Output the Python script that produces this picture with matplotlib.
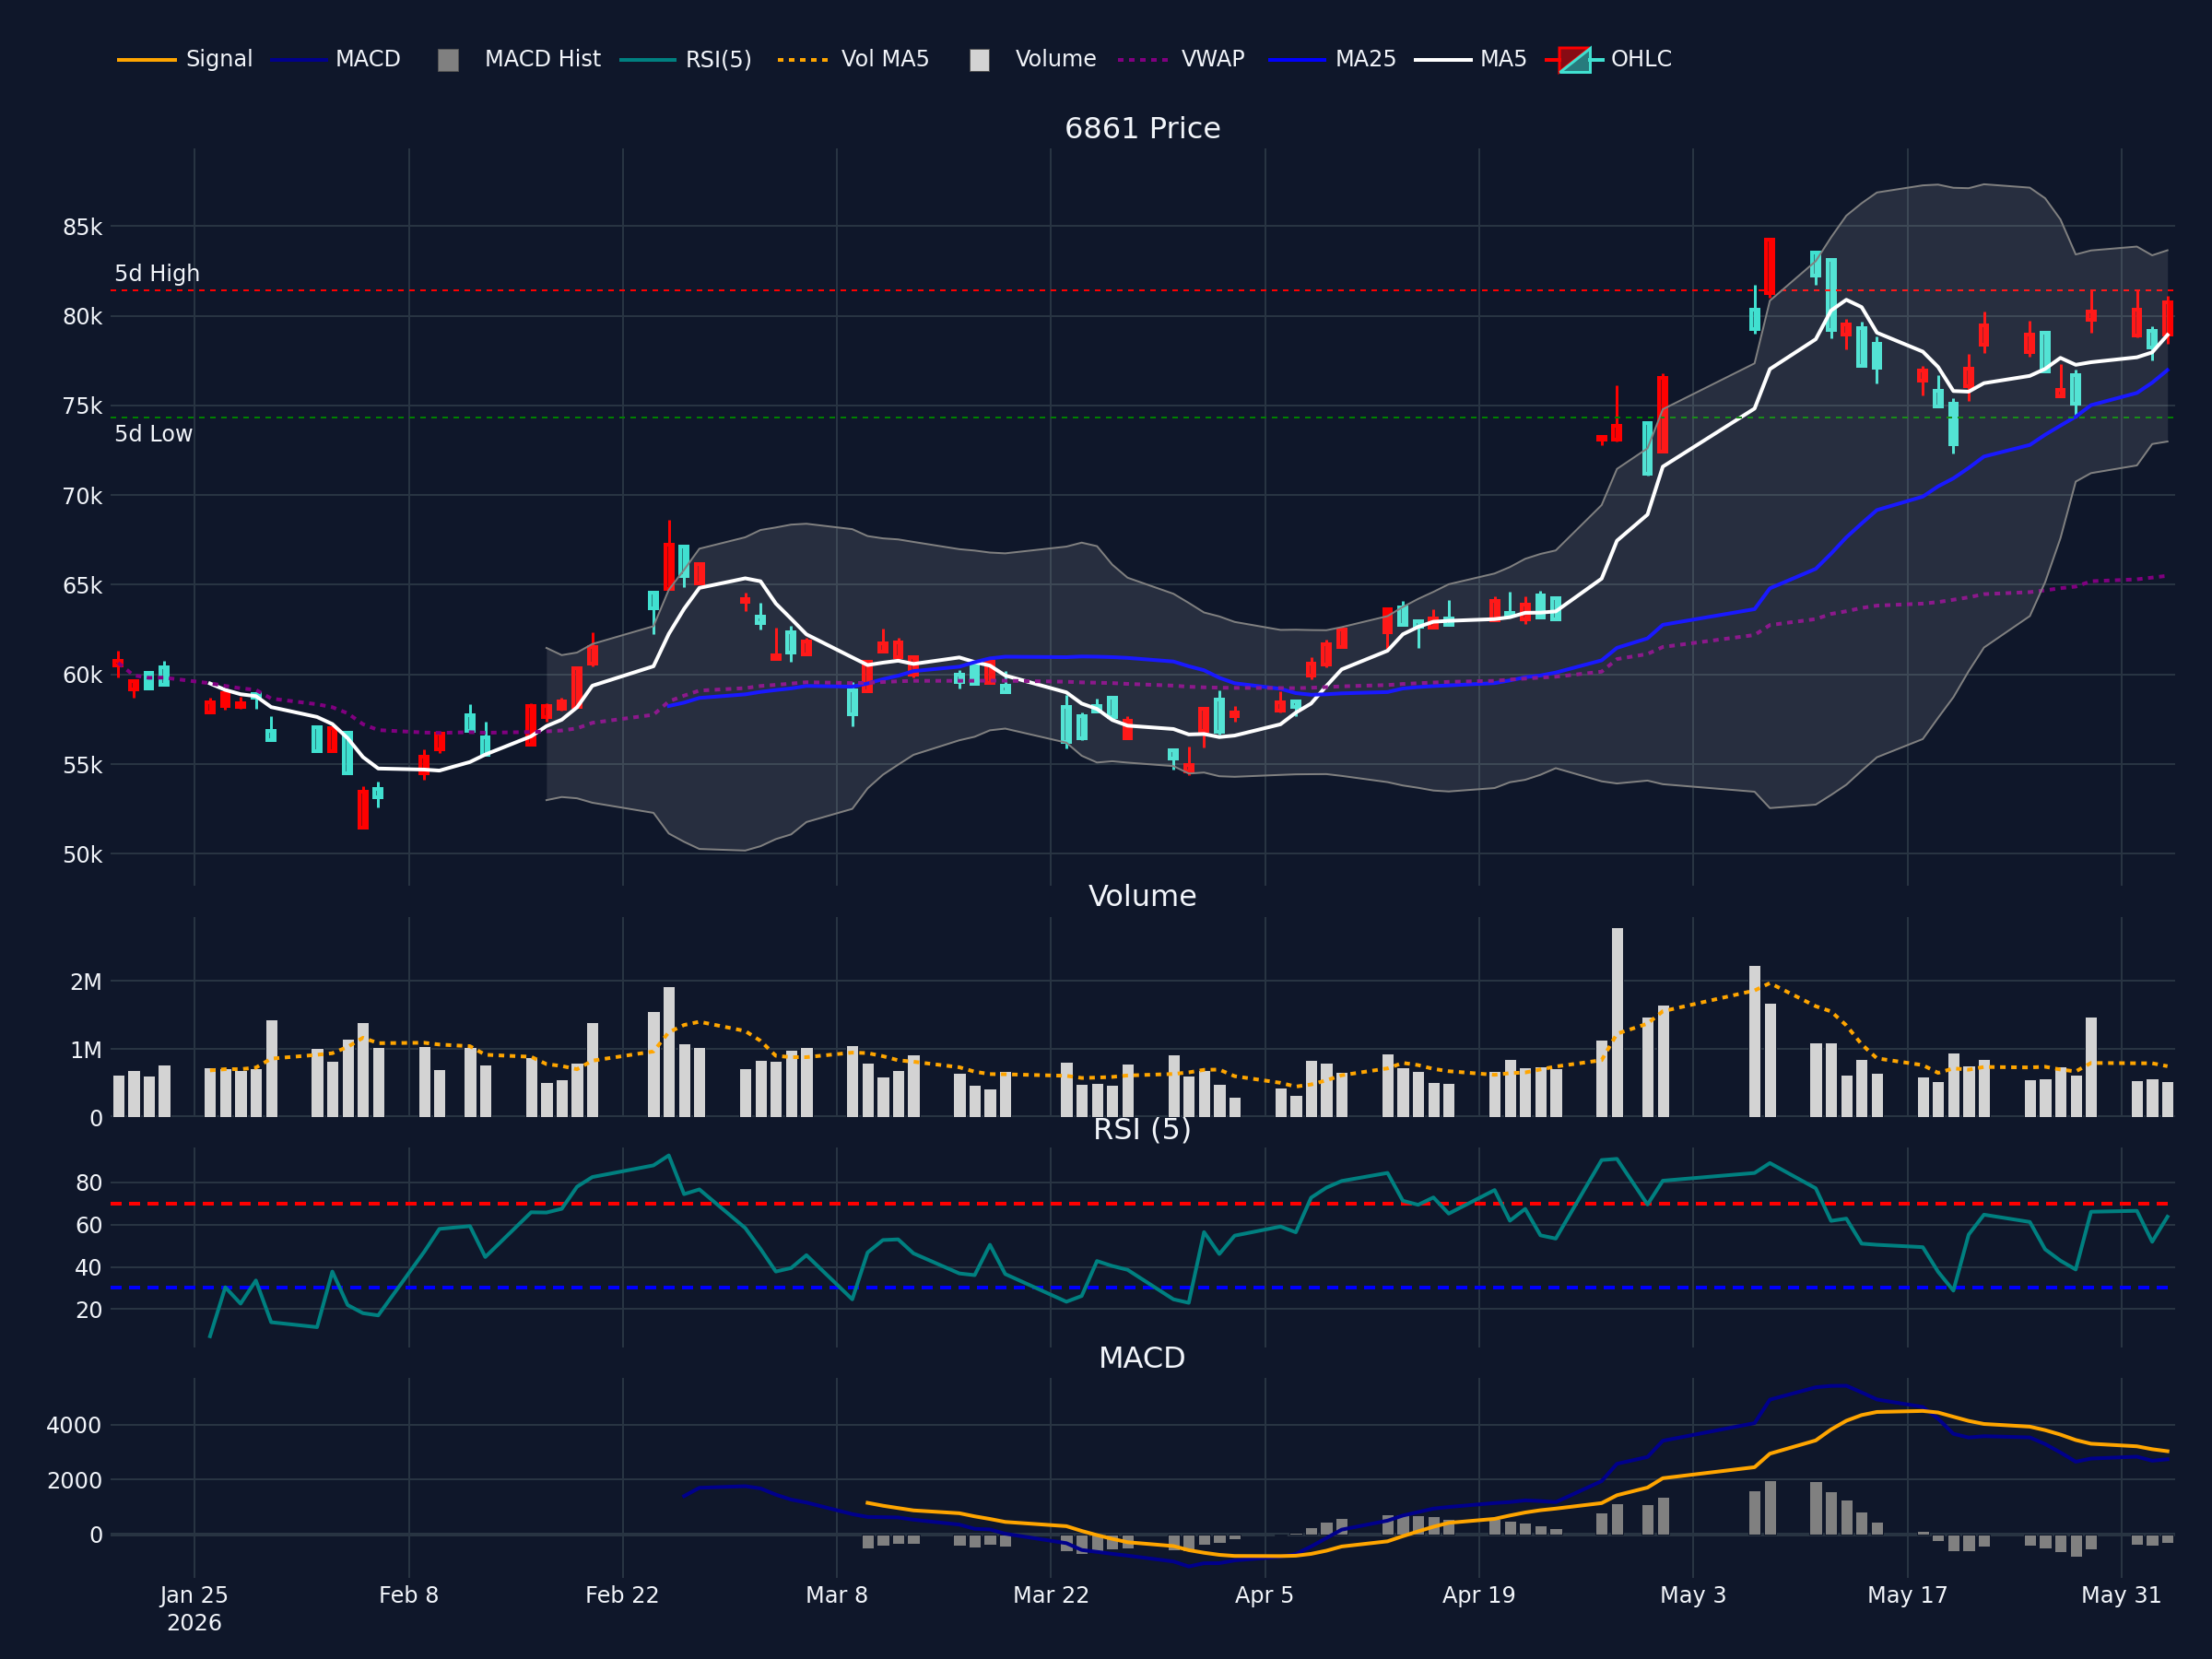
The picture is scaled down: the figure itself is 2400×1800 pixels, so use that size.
import numpy as np
import pandas as pd
import matplotlib
matplotlib.use("Agg")
import matplotlib.pyplot as plt
import matplotlib.dates as mdates
from matplotlib.patches import Rectangle, Polygon
from matplotlib.lines import Line2D

plt.rcParams['font.family'] = ['DejaVu Sans']
plt.rcParams['lines.scale_dashes'] = False

# ---------------- data ----------------
ticker_title = "6861 Price"
days_jan = [20, 21, 22, 23, 26, 27, 28, 29, 30]
days_feb = [2, 3, 4, 5, 6, 9, 10, 12, 13, 16, 17, 18, 19, 20, 24, 25, 26, 27]
days_mar = [2, 3, 4, 5, 6, 9, 10, 11, 12, 13, 16, 17, 18, 19, 23, 24, 25, 26, 27, 30, 31]
days_apr = [1, 2, 3, 6, 7, 8, 9, 10, 13, 14, 15, 16, 17, 20, 21, 22, 23, 24, 27, 28, 30]
days_may = [1, 7, 8, 11, 12, 13, 14, 15, 18, 19, 20, 21, 22, 25, 26, 27, 28, 29]
days_jun = [1, 2, 3]

# prices in thousands of yen
open_k = [60.48, 59.14, 60.09, 60.40, 57.89, 58.25, 58.17, 58.92, 56.87,
          57.04, 55.70, 56.76, 51.45, 53.61, 54.48, 55.81, 57.72, 56.49, 56.06, 57.60, 58.07, 58.17, 60.60, 64.54, 64.75, 67.13, 65.09,
          64.06, 63.22, 60.88, 62.37, 61.12, 59.09, 59.06, 61.29, 60.94, 60.00, 59.97, 60.52, 59.54, 59.37, 58.17, 57.66, 58.25, 58.68, 56.46, 55.77, 54.61,
          56.83, 58.58, 57.66, 58.00, 58.50, 59.95, 60.57, 61.51, 62.37, 63.74, 62.97, 62.62, 63.14, 63.00, 63.43, 63.08, 64.42, 64.23, 73.11, 73.11, 74.00,
          72.42, 80.33, 81.24, 83.54, 83.11, 78.93, 79.31, 78.42, 76.36, 75.79, 75.09, 76.07, 78.38, 77.99, 79.05, 75.50, 76.70, 79.79,
          78.90, 79.13, 78.96]
high_k = [61.34, 59.61, 60.09, 60.74, 58.68, 58.97, 58.77, 58.95, 57.65,
          57.04, 57.12, 56.76, 53.78, 54.01, 55.84, 56.71, 58.32, 57.35, 58.37, 58.41, 58.72, 60.41, 62.36, 64.68, 68.62, 67.13, 66.25,
          64.54, 63.99, 62.60, 62.71, 62.06, 59.57, 60.72, 62.57, 62.04, 60.94, 60.22, 60.52, 60.72, 60.17, 58.85, 57.86, 58.63, 58.68, 57.69, 55.77, 55.98,
          58.07, 59.09, 58.25, 59.06, 58.50, 60.94, 61.94, 62.49, 63.75, 64.08, 62.97, 63.65, 64.15, 64.34, 64.59, 64.34, 64.68, 64.23, 73.24, 76.10, 74.00,
          76.79, 81.72, 84.24, 83.60, 83.11, 79.82, 79.65, 78.84, 77.18, 76.67, 75.38, 77.85, 80.21, 79.73, 79.05, 77.30, 76.99, 81.41,
          81.41, 79.41, 81.10]
low_k = [59.83, 58.72, 59.23, 59.40, 57.89, 58.03, 58.08, 58.07, 56.27,
         55.70, 55.70, 54.47, 51.45, 52.60, 54.13, 55.63, 56.75, 55.51, 56.06, 57.35, 58.00, 58.17, 60.43, 62.23, 64.75, 64.88, 65.09,
         63.55, 62.49, 60.82, 60.72, 61.08, 57.09, 59.06, 61.29, 60.81, 59.83, 59.23, 59.45, 59.54, 59.01, 55.89, 56.32, 57.95, 57.64, 56.46, 54.69, 54.38,
         55.94, 56.66, 57.38, 57.86, 57.69, 59.74, 60.38, 61.51, 61.37, 62.78, 61.46, 62.57, 62.74, 63.00, 63.31, 62.83, 63.17, 63.08, 72.76, 72.97, 71.08,
         72.42, 78.98, 81.02, 81.70, 78.76, 78.11, 77.22, 76.24, 75.55, 74.92, 72.30, 75.25, 77.90, 77.70, 76.87, 75.50, 74.30, 79.07,
         78.79, 77.53, 78.42]
close_k = [60.77, 59.61, 59.23, 59.40, 58.46, 58.97, 58.41, 58.70, 56.35,
           55.70, 57.00, 54.47, 53.44, 53.15, 55.41, 56.71, 56.87, 55.51, 58.25, 58.24, 58.49, 60.33, 61.53, 63.68, 67.25, 65.48, 66.17,
           64.20, 62.85, 61.05, 61.23, 61.83, 57.77, 60.72, 61.72, 61.77, 60.94, 59.57, 59.45, 60.72, 59.01, 56.23, 56.46, 57.95, 57.64, 57.43, 55.29, 54.95,
           58.07, 56.78, 57.86, 58.43, 58.20, 60.60, 61.68, 62.49, 63.63, 62.78, 62.66, 63.12, 62.74, 64.11, 63.31, 63.89, 63.17, 63.08, 73.24, 73.88, 71.19,
           76.53, 79.27, 84.24, 82.21, 79.19, 79.53, 77.22, 77.11, 76.93, 74.92, 72.81, 77.05, 79.48, 78.96, 76.87, 75.88, 75.11, 80.21,
           80.33, 78.24, 80.73]
# volume in millions of shares
volume_m = [0.624, 0.692, 0.611, 0.769, 0.733, 0.715, 0.692, 0.724, 1.430,
            1.014, 0.833, 1.154, 1.398, 1.032, 1.045, 0.701, 1.032, 0.769, 0.882, 0.511, 0.557, 0.796, 1.398, 1.561, 1.923, 1.090, 1.032,
            0.719, 0.837, 0.824, 0.991, 1.032, 1.054, 0.801, 0.597, 0.692, 0.923, 0.647, 0.475, 0.421, 0.679, 0.810, 0.489, 0.502, 0.471, 0.783, 0.923, 0.606,
            0.688, 0.489, 0.299, 0.434, 0.330, 0.842, 0.796, 0.670, 0.941, 0.733, 0.679, 0.516, 0.502, 0.674, 0.855, 0.729, 0.742, 0.715, 1.140, 2.796, 1.475,
            1.652, 2.240, 1.683, 1.095, 1.095, 0.624, 0.851, 0.652, 0.597, 0.525, 0.950, 0.760, 0.851, 0.561, 0.575, 0.747, 0.620, 1.475,
            0.538, 0.575, 0.529]

xtick_dates = ["2026-01-25", "2026-02-08", "2026-02-22", "2026-03-08", "2026-03-22",
               "2026-04-05", "2026-04-19", "2026-05-03", "2026-05-17", "2026-05-31"]
xtick_labels = ["Jan 25\n2026", "Feb 8", "Feb 22", "Mar 8", "Mar 22",
                "Apr 5", "Apr 19", "May 3", "May 17", "May 31"]
price_ticks = [50000, 55000, 60000, 65000, 70000, 75000, 80000, 85000]
vol_ticks = [0, 1e6, 2e6]
rsi_ticks = [20, 40, 60, 80]
macd_ticks = [0, 2000, 4000]
legend_labels = ["Signal", "MACD", "MACD Hist", "RSI(5)", "Vol MA5", "Volume", "VWAP", "MA25", "MA5", "OHLC"]

# ---------------- frame ----------------
dates = ([f"2026-01-{d:02d}" for d in days_jan] + [f"2026-02-{d:02d}" for d in days_feb] +
         [f"2026-03-{d:02d}" for d in days_mar] + [f"2026-04-{d:02d}" for d in days_apr] +
         [f"2026-05-{d:02d}" for d in days_may] + [f"2026-06-{d:02d}" for d in days_jun])
df = pd.DataFrame({
    "date": pd.to_datetime(dates),
    "open": np.array(open_k) * 1000, "high": np.array(high_k) * 1000,
    "low": np.array(low_k) * 1000, "close": np.array(close_k) * 1000,
    "volume": np.array(volume_m) * 1e6,
})
c = df["close"]
df["ma5"] = c.rolling(5).mean()
df["ma25"] = c.rolling(25).mean()
mid = c.rolling(20).mean()
sd = c.rolling(20).std()
df["bb_up"] = mid + 2 * sd
df["bb_lo"] = mid - 2 * sd
typ = (df["high"] + df["low"] + df["close"]) / 3
df["vwap"] = (typ * df["volume"]).cumsum() / df["volume"].cumsum()
df["vol_ma5"] = df["volume"].rolling(5).mean()
delta = c.diff()
gain = delta.where(delta > 0, 0).ewm(com=4, min_periods=5).mean()
loss = (-delta.where(delta < 0, 0)).ewm(com=4, min_periods=5).mean()
df["rsi"] = 100 - 100 / (1 + gain / loss)
ema12 = c.ewm(span=12, adjust=False, min_periods=12).mean()
ema26 = c.ewm(span=26, adjust=False, min_periods=26).mean()
df["macd"] = ema12 - ema26
df["signal"] = df["macd"].ewm(span=9, adjust=False, min_periods=9).mean()
df["hist"] = df["macd"] - df["signal"]
hi5 = df["high"].iloc[-5:].max()
lo5 = df["low"].iloc[-5:].min()

x = mdates.date2num(df["date"])

# ---------------- style ----------------
BG = "#0f172a"
GRID = "#283442"
TXT = "#f2f5fa"
INC = "#ff0000"
DEC = "#40e0d0"
W, H = 2400, 1800
PX = 72 / 200.0  # points per pixel

fig = plt.figure(figsize=(12, 9), dpi=200, facecolor=BG)


def rect(x0, y0, x1, y1):
    return [x0 / W, 1 - y1 / H, (x1 - x0) / W, (y1 - y0) / H]


ax_p = fig.add_axes(rect(120, 161, 2360, 961))
ax_v = fig.add_axes(rect(120, 995, 2360, 1212), sharex=ax_p)
ax_r = fig.add_axes(rect(120, 1245, 2360, 1462), sharex=ax_p)
ax_m = fig.add_axes(rect(120, 1495, 2360, 1712), sharex=ax_p)

tick_x = mdates.date2num(pd.to_datetime(xtick_dates))
for ax in (ax_p, ax_v, ax_r, ax_m):
    ax.set_facecolor(BG)
    for s in ax.spines.values():
        s.set_visible(False)
    ax.set_axisbelow(True)
    ax.grid(True, color=GRID, lw=2 * PX)
    ax.tick_params(length=0, colors=TXT, labelsize=12 * 2 * PX, pad=3)
    ax.set_xticks(tick_x)
ax_p.set_xlim(x[0] - 0.5, x[-1] + 0.5)
for ax in (ax_p, ax_v, ax_r):
    ax.tick_params(labelbottom=False)
ax_m.set_xticklabels(xtick_labels, linespacing=1.3)
ax_m.tick_params(axis="x", pad=3)

# ---------------- price panel ----------------
o, h, l, cl = df["open"].values, df["high"].values, df["low"].values, df["close"].values
up = cl >= o
line_cols = np.where(up, INC, DEC)
fill_cols = [(1, 0, 0, 0.5) if u else (64 / 255, 224 / 255, 208 / 255, 0.5) for u in up]
ax_p.vlines(x, l, h, colors=line_cols, lw=3 * PX, zorder=2)
ax_p.bar(x, np.abs(cl - o), bottom=np.minimum(o, cl), width=0.47, color=fill_cols,
         edgecolor=line_cols, linewidth=4 * PX, zorder=3)
ax_p.plot(x, df["ma5"], color="white", lw=4 * PX, zorder=4)
ax_p.plot(x, df["ma25"], color="blue", lw=4 * PX, zorder=4)
ax_p.plot(x, df["vwap"], color="purple", lw=4 * PX, dashes=(6 * PX, 6 * PX), zorder=4)
ax_p.fill_between(x, df["bb_lo"], df["bb_up"], color="white", alpha=0.1, lw=0, zorder=6)
ax_p.plot(x, df["bb_up"], color="gray", lw=2 * PX, zorder=6)
ax_p.plot(x, df["bb_lo"], color="gray", lw=2 * PX, zorder=6)
ax_p.axhline(hi5, color="red", lw=2 * PX, dashes=(6 * PX, 6 * PX), zorder=5)
ax_p.axhline(lo5, color="green", lw=2 * PX, dashes=(6 * PX, 6 * PX), zorder=5)
ax_p.annotate("5d High", xy=(0.002, hi5), xycoords=("axes fraction", "data"),
              xytext=(0, 2), textcoords="offset points", ha="left", va="bottom",
              color=TXT, fontsize=12 * 2 * PX, zorder=7)
ax_p.annotate("5d Low", xy=(0.002, lo5), xycoords=("axes fraction", "data"),
              xytext=(0, -2.5), textcoords="offset points", ha="left", va="top",
              color=TXT, fontsize=12 * 2 * PX, zorder=7)
ax_p.set_ylim(48217, 89327)
ax_p.set_yticks(price_ticks)
ax_p.set_yticklabels([f"{int(t/1000)}k" for t in price_ticks])

# ---------------- volume panel ----------------
ax_v.bar(x, df["volume"], width=0.8, color="lightgray", edgecolor=BG, linewidth=1 * PX, zorder=3)
ax_v.plot(x, df["vol_ma5"], color="orange", lw=4 * PX, dashes=(6 * PX, 6 * PX), zorder=4)
ax_v.axhline(0, color=GRID, lw=4 * PX, zorder=2)
ax_v.set_ylim(0, 2.94e6)
ax_v.set_yticks(vol_ticks)
ax_v.set_yticklabels(["0", "1M", "2M"])

# ---------------- RSI panel ----------------
ax_r.plot(x, df["rsi"], color="teal", lw=4 * PX, zorder=4)
ax_r.axhline(70, color="red", lw=4 * PX, dashes=(12 * PX, 8 * PX), zorder=3)
ax_r.axhline(30, color="blue", lw=4 * PX, dashes=(12 * PX, 8 * PX), zorder=3)
ax_r.set_ylim(1.8, 96.6)
ax_r.set_yticks(rsi_ticks)

# ---------------- MACD panel ----------------
ax_m.bar(x, df["hist"], width=0.8, color="gray", edgecolor=BG, linewidth=1 * PX, zorder=3)
ax_m.plot(x, df["macd"], color="darkblue", lw=4 * PX, zorder=4)
ax_m.plot(x, df["signal"], color="orange", lw=4 * PX, zorder=4)
ax_m.axhline(0, color=GRID, lw=4 * PX, zorder=2)
ax_m.set_ylim(-1575, 5695)
ax_m.set_yticks(macd_ticks)
ax_m.set_yticklabels([str(t) for t in macd_ticks])

# ---------------- subplot titles ----------------
for txt, yy in [(ticker_title, 141), ("Volume", 975), ("RSI (5)", 1227), ("MACD", 1476)]:
    fig.text(1240 / W, 1 - yy / H, txt, ha="center", va="center", color=TXT, fontsize=16 * 2 * PX)

# ---------------- legend (drawn in pixel space) ----------------
lg = fig.add_axes([0, 0, 1, 1], zorder=10)
lg.set_xlim(0, W)
lg.set_ylim(H, 0)
lg.axis("off")
ly = 65
items = [
    ("line", "orange", 129, 190, 201),
    ("line", "darkblue", 295, 354, 364),
    ("box", "gray", 475, 497, 526),
    ("line", "teal", 674, 732, 744),
    ("dot", "orange", 844, 898, 913),
    ("box", "lightgray", 1052, 1073, 1102),
    ("dot", "purple", 1213, 1269, 1282),
    ("line", "blue", 1378, 1437, 1449),
    ("line", "white", 1536, 1596, 1606),
    ("ohlc", None, 1678, 1739, 1748),
]
for (kind, col, xa, xb, xt), lab in zip(items, legend_labels):
    if kind == "line":
        lg.add_line(Line2D([xa, xb], [ly, ly], color=col, lw=4 * PX))
    elif kind == "dot":
        lg.add_line(Line2D([xa, xb], [ly, ly], color=col, lw=4 * PX, dashes=(6 * PX, 6 * PX)))
    elif kind == "box":
        lg.add_patch(Rectangle((xa, ly - 12), xb - xa, 24, facecolor=col, edgecolor="#555555", lw=1 * PX))
    else:
        bx0, bx1, by0, by1 = 1692, 1725, ly - 13, ly + 13
        lg.add_line(Line2D([xa, bx0], [ly, ly], color=INC, lw=4 * PX))
        lg.add_line(Line2D([bx1, xb], [ly, ly], color=DEC, lw=4 * PX))
        lg.add_patch(Polygon([(bx0, by0), (bx1, by0), (bx0, by1)], closed=True,
                             facecolor=(1, 0, 0, 0.5), edgecolor=INC, lw=3 * PX))
        lg.add_patch(Polygon([(bx1, by0), (bx1, by1), (bx0, by1)], closed=True,
                             facecolor=(64 / 255, 224 / 255, 208 / 255, 0.5), edgecolor=DEC, lw=3 * PX))
    lg.text(xt, ly, lab, ha="left", va="center", color=TXT, fontsize=12 * 2 * PX)

fig.savefig("out.png", dpi=200, facecolor=BG)
